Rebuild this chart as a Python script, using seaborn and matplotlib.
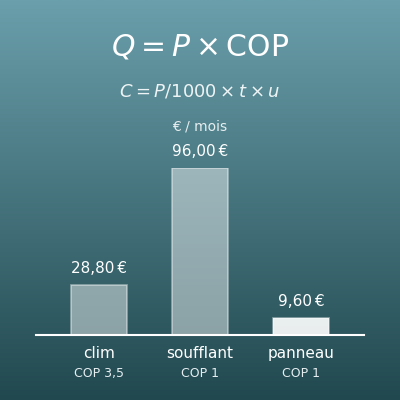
import numpy as np
import pandas as pd
import seaborn as sns
import matplotlib.pyplot as plt
from matplotlib.colors import LinearSegmentedColormap

# données
appareils = ['clim', 'soufflant', 'panneau']
cop_labels = ['COP 3,5', 'COP 1', 'COP 1']
cout_mois = [28.80, 96.00, 9.60]
val_labels = ['28,80\u202f€', '96,00\u202f€', '9,60\u202f€']

df = pd.DataFrame({'appareil': appareils, 'cout': cout_mois})

sns.set_theme(style='white')
plt.rcParams['font.family'] = ['DejaVu Sans']
plt.rcParams['mathtext.fontset'] = 'dejavusans'

fig = plt.figure(figsize=(4, 4), dpi=100)

# fond en dégradé
bg = fig.add_axes([0, 0, 1, 1])
cmap = LinearSegmentedColormap.from_list('bg', ['#6a9fab', '#21484f'])
bg.imshow(np.linspace(0, 1, 256).reshape(-1, 1), aspect='auto', cmap=cmap,
          extent=[0, 1, 0, 1])
bg.set_axis_off()

ax = fig.add_axes([0.09, 65 / 400, 0.82, 167 / 400])
ax.set_facecolor('none')
sns.barplot(data=df, x='appareil', y='cout', ax=ax, width=0.555,
            color='white', saturation=1)
for p, a in zip(ax.patches, [0.45, 0.45, 0.9]):
    p.set_facecolor((1, 1, 1, a))
    p.set_edgecolor((1, 1, 1, 0.45))
    p.set_linewidth(1.2)

ax.set_xlim(-0.625, 2.625)
ax.set_ylim(0, 96)
for s in ['top', 'right', 'left']:
    ax.spines[s].set_visible(False)
ax.spines['bottom'].set_color('white')
ax.spines['bottom'].set_linewidth(1.5)
ax.set_yticks([])
ax.set_xlabel('')
ax.set_ylabel('')
ax.tick_params(axis='x', length=0, pad=8, labelsize=11, labelcolor='white')
ax.set_xticks(range(len(appareils)))
ax.set_xticklabels(appareils)

for i, (v, lab, cop) in enumerate(zip(cout_mois, val_labels, cop_labels)):
    ax.annotate(lab, (i, v), xytext=(0, 12), textcoords='offset points',
                ha='center', va='center', color='white', fontsize=11)
    ax.annotate(cop, (i, 0), xytext=(0, -28), textcoords='offset points',
                ha='center', va='center', color='#e6eef0', fontsize=9)

fig.text(0.5, 1 - 47 / 400, r'$Q = P \times \mathrm{COP}$', ha='center',
         va='center', color='white', fontsize=21.5)
fig.text(0.5, 1 - 91 / 400, r'$C = P/1000 \times t \times u$', ha='center',
         va='center', color='#eef4f5', fontsize=13)
fig.text(0.5, 1 - 127 / 400, '€ / mois', ha='center', va='center',
         color='#e6eef0', fontsize=10)

fig.savefig('out.png', dpi=100)
